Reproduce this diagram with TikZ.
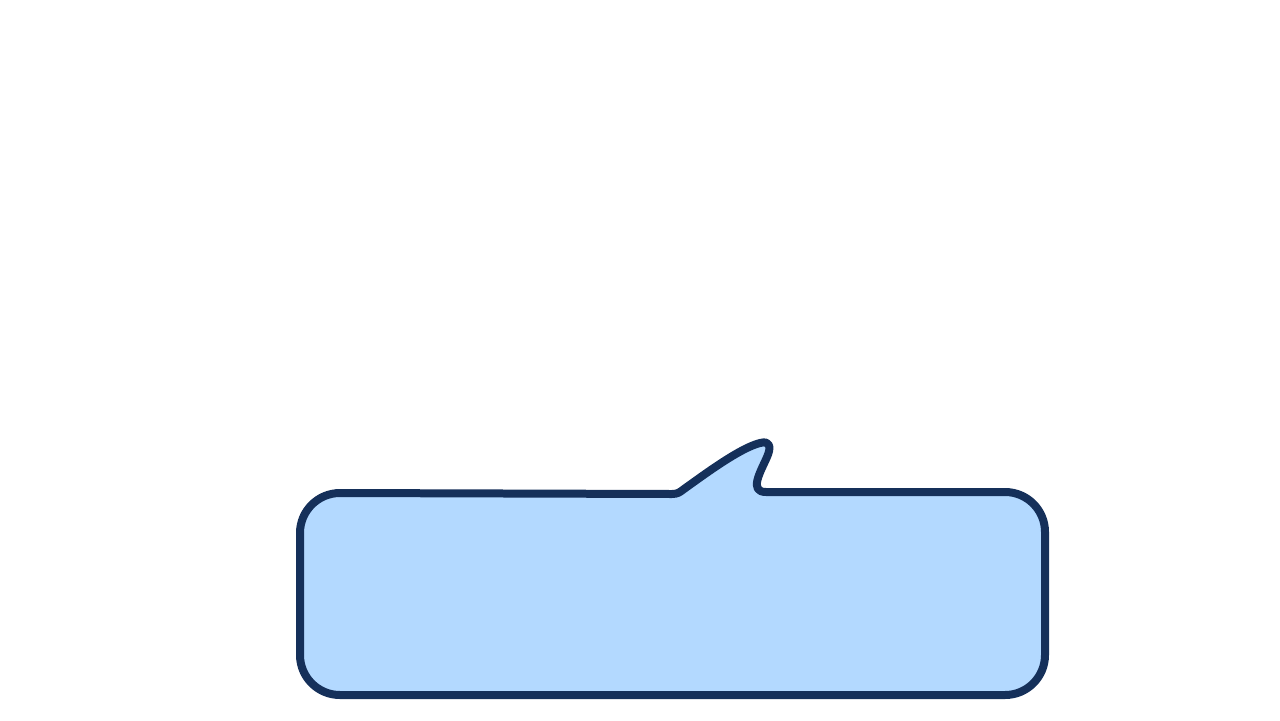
\documentclass[tikz,border=0pt]{standalone}
\definecolor{bubblefill}{HTML}{B3D9FF}
\definecolor{bubbleline}{HTML}{15305A}
\begin{document}
\begin{tikzpicture}[x=0.02cm,y=-0.02cm]
        \useasboundingbox (0,0) rectangle (1280,720);
        \draw[line width=0.16cm,line join=round,draw=bubbleline,fill=bubblefill]
            (340,493) -- (672,494)
            .. controls (678,494) and (680,492) .. (684,489)
            .. controls (705,474) and (740,448) .. (760,443)
            .. controls (771,440) and (771,448) .. (767,457)
            .. controls (761,471) and (748,492) .. (766,492)
            -- (1005,492) arc[start angle=-90,end angle=0,radius=40]
            -- (1045,655) arc[start angle=0,end angle=90,radius=40]
            -- (340,695) arc[start angle=90,end angle=180,radius=40]
            -- (300,533) arc[start angle=180,end angle=270,radius=40]
            -- cycle;
    \end{tikzpicture}
\end{document}
